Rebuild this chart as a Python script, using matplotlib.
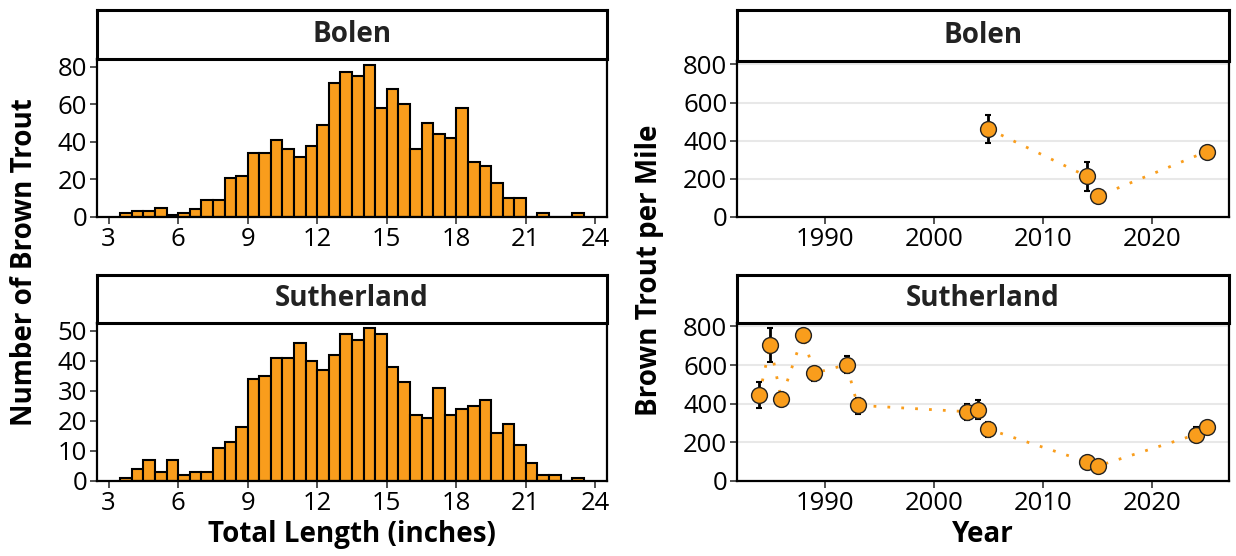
import numpy as np
import matplotlib
matplotlib.use("Agg")
import matplotlib.pyplot as plt

plt.rcParams["font.family"] = ["Open Sans", "DejaVu Sans"]

# histogram data: 0.5 inch bins starting at 3.5 inches
bin_start = 3.5
bin_width = 0.5
bolen_counts = [2, 3, 3, 5, 1, 2, 4, 9, 9, 21, 22, 34, 34, 41, 36, 32, 38, 49, 71, 77,
                75, 81, 58, 68, 60, 36, 50, 44, 42, 58, 29, 27, 18, 10, 10, 0, 2, 0, 0, 2]
sutherland_counts = [1, 4, 7, 3, 7, 2, 3, 3, 11, 13, 18, 34, 35, 41, 41, 46, 40, 37, 42, 49,
                     47, 51, 49, 38, 33, 22, 21, 31, 22, 24, 25, 27, 16, 19, 12, 6, 2, 2, 0, 1]

# population estimates (brown trout per mile) with confidence limits
bolen_years = [2005, 2014, 2015, 2025]
bolen_est = [462, 214, 108, 343]
bolen_lo = [390, 138, 98, 333]
bolen_hi = [535, 291, 118, 353]

suth_years = [1984, 1985, 1986, 1988, 1989, 1992, 1993, 2003, 2004, 2005, 2014, 2015, 2024, 2025]
suth_est = [446, 705, 425, 756, 558, 602, 392, 359, 368, 268, 100, 77, 240, 280]
suth_lo = [380, 616, 389, 740, 520, 558, 348, 317, 319, 228, 90, 70, 201, 270]
suth_hi = [515, 791, 457, 772, 590, 646, 432, 401, 418, 306, 110, 84, 278, 290]

ORANGE = "#F99D1C"
W, H = 1236, 556


def px_axes(fig, x0, y0, x1, y1):
    # axes from pixel box (top-left origin)
    return fig.add_axes([x0 / W, 1 - y1 / H, (x1 - x0) / W, (y1 - y0) / H])


def style_spines(ax):
    for s in ax.spines.values():
        s.set_linewidth(1.6)
        s.set_color("black")
    ax.tick_params(axis="both", labelsize=18.5, width=1.2, length=5, color="#333333", pad=2)


def add_strip(fig, x0, y0, x1, y1, label):
    sax = px_axes(fig, x0, y0, x1, y1)
    sax.set_xticks([])
    sax.set_yticks([])
    for s in sax.spines.values():
        s.set_linewidth(2.2)
    sax.text(0.5, 0.5, label, ha="center", va="center", fontsize=20,
             fontweight="bold", color="#222222", transform=sax.transAxes)


def hist_panel(ax, counts, ymax, yticks):
    edges = bin_start + bin_width * np.arange(len(counts))
    ax.bar(edges, counts, width=bin_width, align="edge", color=ORANGE,
           edgecolor="black", linewidth=1.5)
    ax.set_xlim(2.5, 24.5)
    ax.set_ylim(0, ymax)
    ax.set_xticks(range(3, 25, 3))
    ax.set_yticks(yticks)
    style_spines(ax)


def trend_panel(ax, years, est, lo, hi):
    est = np.array(est)
    yerr = [est - np.array(lo), np.array(hi) - est]
    ax.plot(years, est, linestyle=(0, (1, 4)), color=ORANGE, linewidth=2, zorder=2)
    ax.errorbar(years, est, yerr=yerr, fmt="none", ecolor="black", elinewidth=2,
                capsize=2, capthick=1.5, zorder=3)
    ax.scatter(years, est, s=130, color=ORANGE, edgecolor="#222222", linewidth=1, zorder=4)
    ax.set_xlim(1981.95, 2027.05)
    ax.set_ylim(0, 818)
    ax.set_xticks([1990, 2000, 2010, 2020])
    ax.set_yticks([0, 200, 400, 600, 800])
    ax.grid(axis="y", color="#e8e8e8", linewidth=1.5)
    ax.set_axisbelow(True)
    style_spines(ax)


fig = plt.figure(figsize=(W / 100, H / 100), dpi=100)

# left column: length frequency
ax1 = px_axes(fig, 97, 59, 607, 217)
hist_panel(ax1, bolen_counts, 84, [0, 20, 40, 60, 80])
add_strip(fig, 97, 10, 607, 59, "Bolen")

ax2 = px_axes(fig, 97, 323, 607, 481)
hist_panel(ax2, sutherland_counts, 52.5, [0, 10, 20, 30, 40, 50])
add_strip(fig, 97, 275, 607, 323, "Sutherland")
ax2.set_xlabel("Total Length (inches)", fontsize=20, fontweight="bold", labelpad=3)

fig.text(25 / W, 1 - 262 / H, "Number of Brown Trout", rotation=90, ha="center",
         va="center", fontsize=20, fontweight="bold")

# right column: population estimates
ax3 = px_axes(fig, 737, 61, 1229, 217)
trend_panel(ax3, bolen_years, bolen_est, bolen_lo, bolen_hi)
add_strip(fig, 737, 10, 1229, 61, "Bolen")

ax4 = px_axes(fig, 737, 323, 1229, 481)
trend_panel(ax4, suth_years, suth_est, suth_lo, suth_hi)
add_strip(fig, 737, 275, 1229, 323, "Sutherland")
ax4.set_xlabel("Year", fontsize=20, fontweight="bold", labelpad=3)

fig.text(650 / W, 1 - 270 / H, "Brown Trout per Mile", rotation=90, ha="center",
         va="center", fontsize=20, fontweight="bold")

fig.savefig("out.png", dpi=100)
